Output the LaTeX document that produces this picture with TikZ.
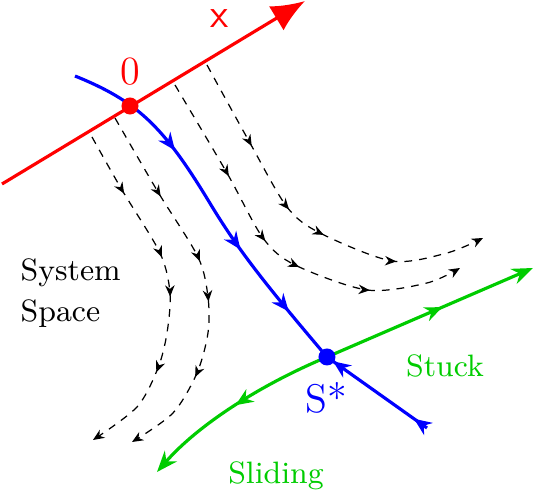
\documentclass[tikz,border=0pt]{standalone}
\usepackage{tikz}
\usetikzlibrary{arrows.meta, decorations.markings}
\definecolor{stuckgreen}{RGB}{0,204,0}

\begin{document}
\begin{tikzpicture}[
    x=0.01cm, y=-0.01cm,
    font=\fontsize{8.8}{11.6}\selectfont,
    xaxis/.style={
        red,
        line width=0.9pt,
        -{Latex[length=9.5pt,width=8pt]}
    },
    traj/.style={
        blue,
        line width=0.9pt
    },
    sep/.style={
        stuckgreen,
        line width=0.9pt
    },
    flow/.style={
        black,
        line width=0.35pt,
        dash pattern=on 2.2pt off 2pt,
        -{Stealth[length=3.2pt,width=2.7pt]}
    },
    fmark/.style={
        postaction={decorate, decoration={markings,
            mark=at position #1 with {\arrow{Stealth[length=3.2pt,width=2.7pt]}}}}
    },
    bmark/.style={
        postaction={decorate, decoration={markings,
            mark=at position #1 with {\arrow{Stealth[length=5pt,width=4.2pt]}}}}
    },
    dot/.style={
        circle,
        fill,
        inner sep=0pt,
        minimum size=0.17cm
    },
    tag/.style={
        font=\fontsize{11.4}{13}\selectfont,
        inner sep=0pt
    }
]

\useasboundingbox (0,0) rectangle (535,494);

% ============================================================
% Fixed points and axis ends
% ============================================================

\coordinate (O)  at (130,106);
\coordinate (S)  at (327,357);
\coordinate (xs) at (2,184);
\coordinate (xe) at (305,1);
\coordinate (b0) at (75,76);
\coordinate (b1) at (208,200);
\coordinate (b2) at (427,428);

% ============================================================
% Flow of the system space (dashed)
% ============================================================

\draw[flow, fmark=0.245, fmark=0.44, fmark=0.555, fmark=0.76]
    plot[smooth] coordinates {(207,65) (250,143) (287,207) (320,233) (392,261) (447,253) (483,238)};
\draw[flow, fmark=0.27, fmark=0.46, fmark=0.57, fmark=0.76]
    plot[smooth] coordinates {(175,85) (227,173) (263,238) (295,265) (367,290) (427,283) (460,268)};
\draw[flow, fmark=0.185, fmark=0.395, fmark=0.51, fmark=0.73]
    plot[smooth] coordinates {(92,137) (122,190) (160,253) (170,293) (167,333) (158,368) (137,407) (93,440)};
\draw[flow, fmark=0.24, fmark=0.44, fmark=0.55, fmark=0.755]
    plot[smooth] coordinates {(115,118) (158,192) (198,257) (208,297) (208,333) (197,373) (173,413) (132,442)};

% ============================================================
% Stuck / sliding manifold (green)
% ============================================================

\draw[sep, bmark=0.56, -{Stealth[length=6pt,width=4.6pt]}] (S) -- (533,268);
\draw[sep, bmark=0.5, -{Stealth[length=6pt,width=4.6pt]}]
    (S) .. controls (260,385) and (198,425) .. (157,472);

% ============================================================
% Trajectory through O to S* (blue)
% ============================================================

\draw[traj, bmark=0.33, bmark=0.64, bmark=0.845]
    (b0) .. controls (137,101) and (163,126) .. (b1)
         .. controls (235,245) and (259,277) .. (S);
\draw[traj, bmark=0.13, bmark=0.94] (b2) -- (S);

% ============================================================
% Axis x
% ============================================================

\draw[xaxis] (xs) -- (xe);

\node[dot, red]  (odot) at (O) {};
\node[dot, blue] (sdot) at (S) {};

\node[tag, red]  (olabel) at (130,72) {0};
\node[tag, blue] (slabel) at (326,398) {S*};
\node[red, inner sep=0pt, font=\fontsize{11.5}{13}\selectfont\sffamily] (xlabel) at (220,19) {x};

\node[stuckgreen, inner sep=0pt] (stuck)   at (445,366) {Stuck};
\node[stuckgreen, inner sep=0pt] (sliding) at (276,476) {Sliding};
\node[align=left, anchor=west, inner sep=0pt] (space) at (20,293) {System\\Space};
\end{tikzpicture}
\end{document}
